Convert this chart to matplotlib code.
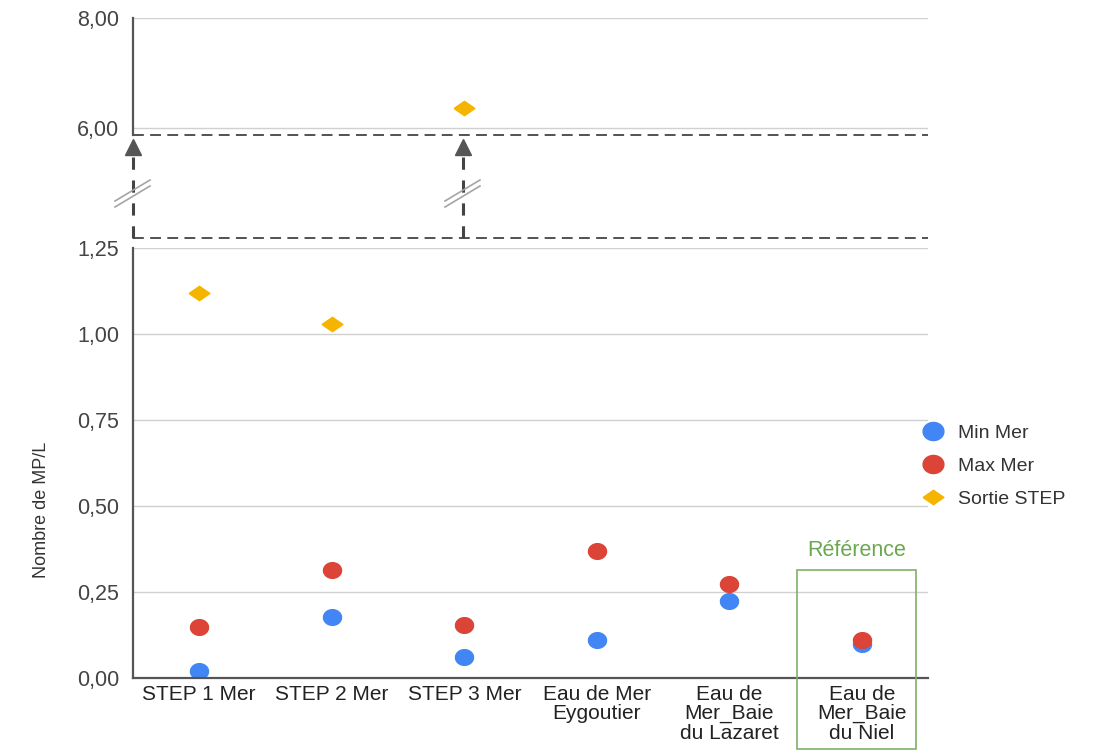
import numpy as np
import matplotlib.pyplot as plt
from matplotlib.lines import Line2D
from matplotlib.patches import Rectangle
from matplotlib.ticker import FixedLocator, FuncFormatter

plt.rcParams['font.family'] = ['Liberation Sans', 'DejaVu Sans']

# Données
categories = ['STEP 1 Mer', 'STEP 2 Mer', 'STEP 3 Mer', 'Eau de Mer\nEygoutier',
              'Eau de\nMer_Baie\ndu Lazaret', 'Eau de\nMer_Baie\ndu Niel']
min_mer = [0.02, 0.177, 0.061, 0.11, 0.224, 0.10]
max_mer = [0.148, 0.314, 0.154, 0.369, 0.273, 0.11]
sortie_step = [1.12, 1.03, 6.36, np.nan, np.nan, np.nan]

bleu = '#4285F4'
rouge = '#DB4437'
jaune = '#F4B400'
vert = '#6aa84f'
gris = '#444444'

W, H = 1104, 751
fig = plt.figure(figsize=(W / 100, H / 100), dpi=100)

def fx(px):
    return px / W

def fy(py):
    return 1 - py / H

x = np.arange(len(categories))
sortie = np.array(sortie_step)
bas = np.where(sortie < 1.25, sortie, np.nan)
haut = np.where(sortie > 1.25, sortie, np.nan)

# marqueurs un peu élargis (comme l'image d'origine)
t = np.linspace(0, 2 * np.pi, 40)
ellipse = np.column_stack([1.15 * np.cos(t), np.sin(t)])
losange = [(-1.45, 0), (0, 1), (1.45, 0), (0, -1), (-1.45, 0)]

ax_h = fig.add_axes([fx(133), fy(135), fx(928) - fx(133), fy(18) - fy(135)])
ax_b = fig.add_axes([fx(133), fy(678), fx(928) - fx(133), fy(248) - fy(678)])

fmt = FuncFormatter(lambda v, p: f'{v:.2f}'.replace('.', ','))

for ax in (ax_h, ax_b):
    ax.set_xlim(-0.5, len(categories) - 0.5)
    for s in ['top', 'right']:
        ax.spines[s].set_visible(False)
    ax.spines['left'].set_color('#555555')
    ax.spines['left'].set_linewidth(1.6)
    ax.grid(axis='y', color='#d0d0d0', linewidth=1)
    ax.set_axisbelow(True)
    ax.tick_params(axis='y', length=0, pad=10, labelsize=15.5, labelcolor=gris)
    ax.yaxis.set_major_formatter(fmt)

# partie haute
ax_h.set_ylim(5.87, 8.0)
ax_h.yaxis.set_major_locator(FixedLocator([6.0, 8.0]))
ax_h.spines['bottom'].set_visible(False)
ax_h.set_xticks([])
ax_h.plot(x, haut, linestyle='none', marker=losange, markersize=15, color=jaune)
ax_h.axhline(5.87, color=gris, linestyle=(0, (6, 3.5)), linewidth=1.3, clip_on=False)

# partie basse
ax_b.set_ylim(0, 1.25)
ax_b.yaxis.set_major_locator(FixedLocator([0, 0.25, 0.5, 0.75, 1.0, 1.25]))
ax_b.spines['bottom'].set_color('#555555')
ax_b.spines['bottom'].set_linewidth(1.6)
ax_b.set_xticks(x)
ax_b.set_xticklabels(categories, fontsize=15, color='#222222', linespacing=1.02)
ax_b.tick_params(axis='x', length=0, pad=5)

ax_b.plot(x, min_mer, linestyle='none', marker=ellipse, markersize=13, color=bleu, label='Min Mer')
ax_b.plot(x, max_mer, linestyle='none', marker=ellipse, markersize=13, color=rouge, label='Max Mer')
ax_b.plot(x, bas, linestyle='none', marker=losange, markersize=15, color=jaune, label='Sortie STEP')

# ligne pointillée au-dessus de la partie basse
fig.add_artist(Line2D([fx(133), fx(928)], [fy(238), fy(238)], color=gris,
                      linestyle=(0, (6, 3.5)), linewidth=1.3))

# flèches de coupure
for px in (133, 463):
    fig.add_artist(Line2D([fx(px), fx(px)], [fy(238), fy(152)], color=gris,
                          linestyle=(0, (4, 3.5)), linewidth=2.2))
    fig.add_artist(Line2D([fx(px)], [fy(147)], marker='^', markersize=12,
                          color='#555555', linestyle='none'))
    for dy in (0, 6):
        fig.add_artist(Line2D([fx(px - 18), fx(px + 17)], [fy(207 - dy), fy(186 - dy)],
                              color='#a5a5a5', linewidth=1.2))

# cadre "Référence"
fig.add_artist(Rectangle((fx(797), fy(749)), fx(916) - fx(797), fy(570) - fy(749),
                         fill=False, edgecolor='#7fb069', linewidth=1.2))
fig.text(fx(857), fy(551), 'Référence', color=vert, fontsize=15.5, ha='center', va='center')

fig.text(fx(41), fy(510), 'Nombre de MP/L', rotation=90, fontsize=13,
         color='#333333', ha='center', va='center')

handles = [Line2D([], [], linestyle='none', marker=ellipse, markersize=15, color=bleu),
           Line2D([], [], linestyle='none', marker=ellipse, markersize=15, color=rouge),
           Line2D([], [], linestyle='none', marker=losange, markersize=15, color=jaune)]
fig.legend(handles, ['Min Mer', 'Max Mer', 'Sortie STEP'], loc='upper left',
           bbox_to_anchor=(fx(904), fy(407)), frameon=False, fontsize=14,
           handletextpad=0.7, labelspacing=0.78, handlelength=1.2, labelcolor='#333333')

fig.savefig('out.png', dpi=100)
